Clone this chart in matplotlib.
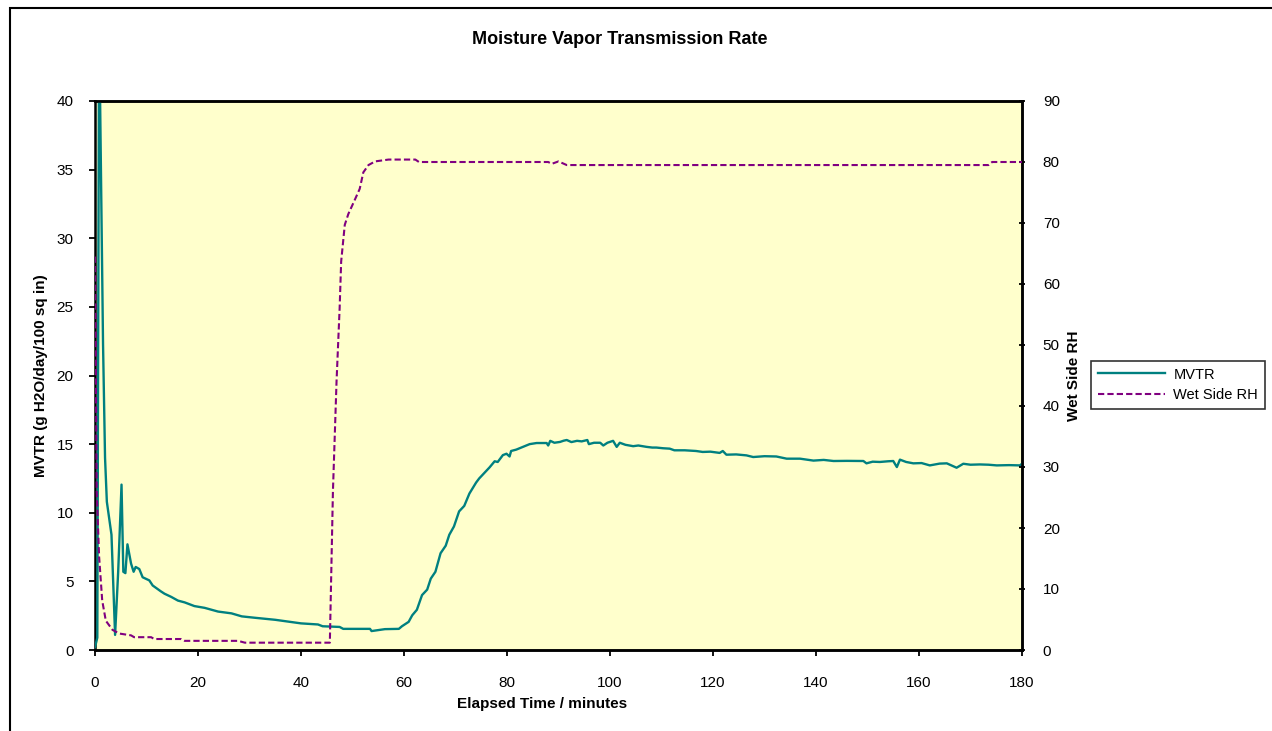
import matplotlib
matplotlib.use("Agg")
import matplotlib.pyplot as plt
from matplotlib.patches import Rectangle

plt.rcParams['font.family'] = ['Liberation Sans', 'DejaVu Sans']

# ---- data ----
time_mvtr = [0, 0.45, 0.8, 1.56, 1.95, 2.3, 3.2, 3.9, 4.5, 5.15, 5.5, 5.9, 6.3, 7.0, 7.5, 7.9,
             8.6, 9.25, 10.55, 11.2, 12.8, 13.5, 14.8, 16.1, 17.4, 19.3, 21.3, 23.9, 26.5, 28.5,
             31, 35, 40, 43.3, 44.2, 47.5, 48.2, 53.4, 53.7, 56.3, 59, 59.6, 60.9, 61.6, 62.5,
             63.5, 64.5, 65.2, 66.1, 67.1, 68.1, 68.8, 69.7, 70.7, 71.7, 72.7, 74, 74.6, 75.6,
             76.6, 77.6, 78.2, 79.2, 79.9, 80.5, 80.8, 81.8, 83.1, 84.4, 85.75, 87.7, 88, 88.4,
             89.2, 90.3, 91.0, 91.6, 92.5, 93.6, 94.5, 95.6, 95.9, 96.9, 98.1, 98.7, 99.5, 100.6,
             101.3, 101.9, 103.0, 104.5, 105.5, 107.1, 108.2, 109, 110.3, 111.6, 112.5, 114.5,
             116.7, 118, 119.5, 121.3, 121.9, 122.6, 124.5, 126.5, 127.8, 130.0, 132.3, 134.3,
             136.9, 139.5, 141.5, 143.4, 146.0, 149.2, 149.8, 151.0, 152.4, 154.0, 155, 155.7,
             156.3, 157.5, 158.9, 160.5, 162.1, 164.0, 165.4, 167.3, 168.6, 170.0, 171.8, 173.5,
             175.1, 177.5, 179.6, 180]
mvtr = [0.2, 0.9, 46, 22.3, 14, 10.8, 8.4, 1.1, 5.7, 12.05, 5.7, 5.6, 7.7, 6.3, 5.7, 6.05,
        5.9, 5.3, 5.07, 4.7, 4.27, 4.1, 3.87, 3.6, 3.47, 3.2, 3.07, 2.8, 2.67, 2.45,
        2.35, 2.2, 1.94, 1.86, 1.73, 1.68, 1.54, 1.54, 1.38, 1.52, 1.54, 1.73, 2.05, 2.53, 2.93,
        4.0, 4.4, 5.2, 5.7, 7.05, 7.6, 8.4, 9.0, 10.1, 10.5, 11.4, 12.2, 12.5, 12.9,
        13.3, 13.75, 13.7, 14.2, 14.3, 14.1, 14.5, 14.6, 14.8, 15.0, 15.08, 15.08, 14.9, 15.24,
        15.1, 15.16, 15.25, 15.3, 15.15, 15.24, 15.2, 15.3, 15.0, 15.1, 15.1, 14.9, 15.1, 15.24,
        14.8, 15.1, 14.95, 14.85, 14.9, 14.8, 14.75, 14.75, 14.7, 14.67, 14.55, 14.55,
        14.5, 14.43, 14.45, 14.36, 14.5, 14.23, 14.25, 14.18, 14.06, 14.12, 14.1, 13.94,
        13.94, 13.8, 13.85, 13.77, 13.78, 13.77, 13.6, 13.72, 13.7, 13.75, 13.77, 13.33,
        13.87, 13.7, 13.6, 13.62, 13.45, 13.58, 13.6, 13.28, 13.57, 13.5, 13.52, 13.5,
        13.45, 13.47, 13.45, 13.57]

time_rh = [0, 0.33, 0.8, 1.4, 2.1, 3.4, 4.7, 7.0, 7.6, 10.9, 11.5, 16.7, 17.4, 27.8, 29.1,
           45.6, 46.2, 46.9, 47.5, 47.8, 48.5, 49.2, 50.5, 51.4, 52.1, 53.1, 54.4, 57,
           62.2, 62.9, 88, 88.7, 90, 91.6, 173.5, 174.2, 180]
rh = [64.5, 26, 15.3, 8.1, 4.8, 3.3, 2.7, 2.4, 2.1, 2.1, 1.8, 1.8, 1.5, 1.5, 1.2,
      1.2, 26, 44, 56, 63.7, 69.7, 71.5, 73.9, 75.6, 78.3, 79.5, 80.1, 80.4,
      80.4, 80.0, 80.0, 79.7, 80.1, 79.5, 79.5, 80.0, 80.0]

x_ticks = list(range(0, 181, 20))
left_ticks = list(range(0, 41, 5))
right_ticks = list(range(0, 91, 10))

teal = '#008080'
purple = '#800080'

W, H = 1272, 731
fig = plt.figure(figsize=(W / 100, H / 100), dpi=100)
fig.patch.set_facecolor('white')

# plot area in pixels: left 95, right 1022, top 101, bottom 650
L, R, T, B = 95, 1022, 101, 650
ax = fig.add_axes([L / W, 1 - B / H, (R - L) / W, (B - T) / H])
ax.set_facecolor('#FFFFCC')
ax2 = ax.twinx()

l1, = ax.plot(time_mvtr, mvtr, color=teal, lw=1.7, solid_joinstyle='round', zorder=3)
l2, = ax2.plot(time_rh, rh, color=purple, lw=1.5, ls=(0, (3, 1.5)), zorder=3)

ax.set_xlim(0, 180)
ax.set_ylim(0, 40)
ax2.set_ylim(0, 90)
ax.set_xticks(x_ticks)
ax.set_yticks(left_ticks)
ax2.set_yticks(right_ticks)

for a in (ax, ax2):
    for s in a.spines.values():
        s.set_color('black')
        s.set_linewidth(1.8)
ax2.spines['left'].set_visible(False)
ax.tick_params(axis='x', labelsize=11, width=1.3, length=4, direction='out', pad=15)
ax.tick_params(axis='y', labelsize=11, width=1.3, length=4, direction='out', pad=11.5)
ax2.tick_params(axis='y', labelsize=11, width=1.3, length=4, direction='inout', pad=13)

ax.set_xlabel('Elapsed Time / minutes', fontsize=11, fontweight='bold')
ax.set_ylabel('MVTR (g H2O/day/100 sq in)', fontsize=11, fontweight='bold')
ax2.set_ylabel('Wet Side RH', fontsize=11, fontweight='bold')
pw, ph = R - L, B - T
ax.xaxis.set_label_coords((542 - L) / pw, (B - 697) / ph)
ax.yaxis.set_label_coords((48 - L) / pw, 0.5)
ax2.yaxis.set_label_coords((1067 - L) / pw, 0.5)

fig.text(620 / W, 1 - 40 / H, 'Moisture Vapor Transmission Rate',
         ha='center', va='center', fontsize=13, fontweight='bold')

# chart border
fig.patches.append(Rectangle((10 / W, -0.05), 1.1, 1 - 8 / H + 0.05, transform=fig.transFigure,
                             fill=False, edgecolor='black', linewidth=1.5))

leg = fig.legend([l1, l2], ['MVTR', 'Wet Side RH'], loc='upper left',
                 bbox_to_anchor=(1091 / W, 1 - 361 / H), fontsize=10.5, frameon=True,
                 fancybox=False, edgecolor='black', handlelength=4.6, borderpad=0.45,
                 labelspacing=0.45, handletextpad=0.6, borderaxespad=0)
leg.get_frame().set_linewidth(1.2)

fig.savefig('out.png', dpi=100)
